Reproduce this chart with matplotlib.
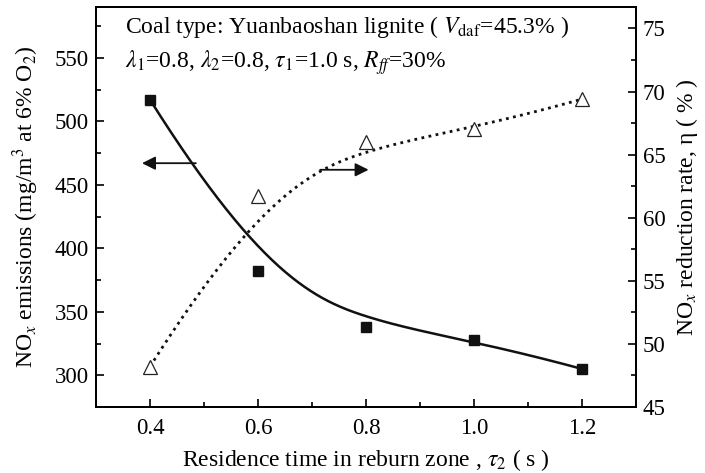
import numpy as np
import matplotlib.pyplot as plt
from matplotlib.ticker import MultipleLocator

plt.rcParams['font.family'] = ['Liberation Serif', 'DejaVu Serif']
plt.rcParams['mathtext.fontset'] = 'stix'

# residence time in reburn zone (s)
tau2 = [0.4, 0.6, 0.8, 1.0, 1.2]
# NOx emissions, mg/m3 at 6% O2
nox = [517, 382, 338, 328, 305]
# NOx reduction rate (%)
eta = [48.2, 61.7, 66.0, 67.0, 69.4]


def bspline(px, py, n=300, p=3):
    # clamped cubic B-spline using the data points as control points
    px = np.asarray(px, float)
    py = np.asarray(py, float)
    m = len(px)
    knots = np.concatenate([np.zeros(p), np.linspace(0, 1, m - p + 1), np.ones(p)])
    t = np.linspace(0, 1 - 1e-9, n)
    B = np.array([(t >= knots[i]) & (t < knots[i + 1]) for i in range(len(knots) - 1)], float)
    for k in range(1, p + 1):
        Bn = np.zeros((len(knots) - 1 - k, n))
        for i in range(len(knots) - 1 - k):
            d1 = knots[i + k] - knots[i]
            d2 = knots[i + k + 1] - knots[i + 1]
            if d1 > 0:
                Bn[i] += (t - knots[i]) / d1 * B[i]
            if d2 > 0:
                Bn[i] += (knots[i + k + 1] - t) / d2 * B[i + 1]
        B = Bn
    return B.T @ px, B.T @ py


fs = 17
tfs = 16.5
fig = plt.figure(figsize=(7.05, 4.73), dpi=100)
ax = fig.add_axes([96/705, 66/473, 540/705, 400/473])
ax2 = ax.twinx()

sx1, sy1 = bspline(tau2, nox)
sx2, sy2 = bspline(tau2, eta)

ax.plot(sx1, sy1, color='#111111', lw=1.8)
ax.plot(tau2, nox, 's', color='#111111', ms=7.5)
ax2.plot(sx2, sy2, color='#111111', lw=2, ls=(0, (1, 1.6)))
ax2.plot(tau2, eta, '^', mfc='white', mec='#222222', ms=10, mew=0.9)

ax.set_xlim(0.3, 1.3)
ax.set_ylim(275, 590)
ax2.set_ylim(45, 76.7)

ax.xaxis.set_minor_locator(MultipleLocator(0.1))
ax.yaxis.set_minor_locator(MultipleLocator(25))
ax2.yaxis.set_major_locator(MultipleLocator(5))
ax2.yaxis.set_minor_locator(MultipleLocator(2.5))
ax.set_xticks([0.4, 0.6, 0.8, 1.0, 1.2])
ax.set_yticks([300, 350, 400, 450, 500, 550])

for a in (ax, ax2):
    a.tick_params(which='both', direction='in', labelsize=tfs, width=1.2, pad=5)
    a.tick_params(which='major', length=6)
    a.tick_params(which='minor', length=3.5)
    for s in a.spines.values():
        s.set_linewidth(1.4)
ax.tick_params(axis='x', pad=8)

ax.set_xlabel(r'Residence time in reburn zone , $\tau_2$ ( s )', fontsize=fs, labelpad=6)
ax.set_ylabel(r'NO$_x$ emissions (mg/m$^3$ at 6% O$_2$)', fontsize=fs, labelpad=10)
ax2.set_ylabel(r'NO$_x$ reduction rate, η ( % )', fontsize=fs, labelpad=6)

ax.text(0.054, 0.95, r'Coal type: Yuanbaoshan lignite ( $V_{\rm daf}$=45.3% )',
        transform=ax.transAxes, fontsize=fs, va='center')
ax.text(0.054, 0.86, r'$\lambda_1$=0.8, $\lambda_2$=0.8, $\tau_1$=1.0 s, $R_{ff}$=30%',
        transform=ax.transAxes, fontsize=fs, va='center')

# arrows pointing to each curve's axis
ax.annotate('', xy=(0.38, 467), xytext=(0.49, 467),
            arrowprops=dict(arrowstyle='-|>', color='#111111', lw=1.3, mutation_scale=20))
ax2.annotate('', xy=(0.81, 63.8), xytext=(0.71, 63.8),
             arrowprops=dict(arrowstyle='-|>', color='#111111', lw=1.3, mutation_scale=20))

fig.savefig('out.png', dpi=100)
